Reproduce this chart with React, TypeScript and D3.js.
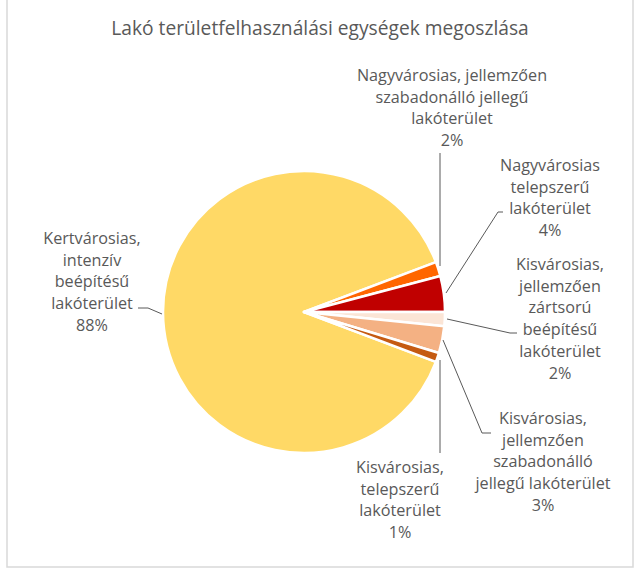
import React from "react";
import * as d3 from "d3";

const title = "Lakó területfelhasználási egységek megoszlása";
const categories = [
  "Kertvárosias, intenzív beépítésű lakóterület",
  "Nagyvárosias, jellemzően szabadonálló jellegű lakóterület",
  "Nagyvárosias telepszerű lakóterület",
  "Kisvárosias, jellemzően zártsorú beépítésű lakóterület",
  "Kisvárosias, jellemzően szabadonálló jellegű lakóterület",
  "Kisvárosias, telepszerű lakóterület",
];
const values = [88.5, 1.65, 4.1, 1.6, 3.1, 1.05];
const percentLabels = ["88%", "2%", "4%", "2%", "3%", "1%"];
const labelLines = [
  ["Kertvárosias,", "intenzív", "beépítésű", "lakóterület"],
  ["Nagyvárosias, jellemzően", "szabadonálló jellegű", "lakóterület"],
  ["Nagyvárosias", "telepszerű", "lakóterület"],
  ["Kisvárosias,", "jellemzően", "zártsorú", "beépítésű", "lakóterület"],
  ["Kisvárosias,", "jellemzően", "szabadonálló", "jellegű lakóterület"],
  ["Kisvárosias,", "telepszerű", "lakóterület"],
];
const colors = ["#FFD966", "#FF6600", "#C00000", "#FBE5D6", "#F4B183", "#C55A11"];

// layout
const W = 637;
const H = 573;
const cx = 304;
const cy = 312;
const R = 141;
const startDeg = 110.7;
const lineH = 21.7;
const labelPos: [number, number][] = [
  [92, 238],
  [452, 75],
  [550, 165],
  [560, 264],
  [543, 418],
  [400, 467],
];
const leaders: [number, number][][] = [
  [[162, 314], [148, 308], [138, 308]],
  [[440, 266], [440, 153]],
  [[446, 293], [498, 212], [503, 212]],
  [[447, 319], [510, 333], [517, 333]],
  [[443, 340], [482, 433], [491, 433]],
  [[440, 360], [440, 453]],
];

export default function App() {
  const start = (startDeg * Math.PI) / 180;
  const pie = d3
    .pie<number>()
    .sort(null)
    .startAngle(start)
    .endAngle(start + 2 * Math.PI)
    .value((d) => d);
  const arcs = pie(values);
  const arc = d3.arc<d3.PieArcDatum<number>>().innerRadius(0).outerRadius(R);
  const line = d3.line();
  const font = "'Open Sans', sans-serif";
  return (
    <svg width={W} height={H} style={{ position: "absolute", left: 0, top: 0 }}>
      <rect x={0} y={0} width={W} height={H} fill="#fff" />
      <rect x={7} y={-5} width={626} height={572} fill="#fff" stroke="#D9D9D9" strokeWidth={1.5} />
      <text
        x={320}
        y={27}
        textAnchor="middle"
        dominantBaseline="central"
        fontFamily={font}
        fontSize={19.2}
        fill="#595959"
      >
        {title}
      </text>
      <g transform={`translate(${cx},${cy})`}>
        {arcs.map((a, i) => (
          <path key={categories[i]} d={arc(a) || ""} fill={colors[i]} stroke="#fff" strokeWidth={2.5} strokeLinejoin="round" />
        ))}
      </g>
      {leaders.map((pts, i) => (
        <path key={"l" + i} d={line(pts) || ""} fill="none" stroke="#595959" strokeWidth={1} />
      ))}
      {labelLines.map((ls, i) => (
        <text
          key={"t" + i}
          textAnchor="middle"
          dominantBaseline="central"
          fontFamily={font}
          fontSize={16.2}
          fill="#595959"
        >
          {[...ls, percentLabels[i]].map((s, j) => (
            <tspan key={j} x={labelPos[i][0]} y={labelPos[i][1] + j * lineH}>
              {s}
            </tspan>
          ))}
        </text>
      ))}
    </svg>
  );
}
